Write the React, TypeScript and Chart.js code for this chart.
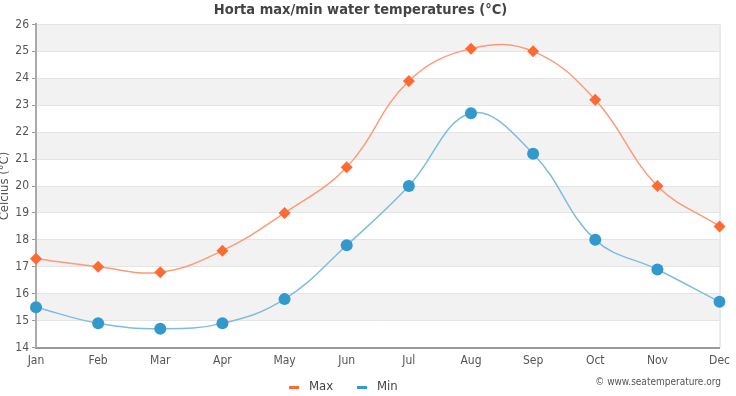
import React, { useEffect, useRef } from "react";
import { Chart, registerables } from "chart.js";

Chart.register(...registerables);

const months = ["Jan", "Feb", "Mar", "Apr", "May", "Jun", "Jul", "Aug", "Sep", "Oct", "Nov", "Dec"];
const maxTemps = [17.3, 17.0, 16.8, 17.6, 19.0, 20.7, 23.9, 25.1, 25.0, 23.2, 20.0, 18.5];
const minTemps = [15.5, 14.9, 14.7, 14.9, 15.8, 17.8, 20.0, 22.7, 21.2, 18.0, 16.9, 15.7];
const seriesNames = ["Max", "Min"];
const yMin = 14;
const yMax = 26;

const FONT = "'DejaVu Sans Condensed', 'DejaVu Sans', sans-serif";
const MAX_COLOR = "#ff6a33";
const MIN_COLOR = "#3399cc";

const bandsPlugin = {
  id: "bands",
  beforeDraw(chart: any) {
    const { ctx, chartArea, scales } = chart;
    const y = scales.y;
    ctx.save();
    ctx.fillStyle = "#f2f2f2";
    for (let v = yMin; v < yMax; v++) {
      if (v % 2 === 1) {
        const top = y.getPixelForValue(v + 1);
        const bot = y.getPixelForValue(v);
        ctx.fillRect(chartArea.left, top, chartArea.right - chartArea.left, bot - top);
      }
    }
    ctx.strokeStyle = "#d8d8d8";
    ctx.lineWidth = 1;
    ctx.beginPath();
    ctx.moveTo(chartArea.right + 0.5, chartArea.top);
    ctx.lineTo(chartArea.right + 0.5, chartArea.bottom);
    ctx.stroke();
    ctx.restore();
  },
  afterDraw(chart: any) {
    const { ctx, chartArea } = chart;
    // y-axis title
    ctx.save();
    ctx.translate(5, (chartArea.top + chartArea.bottom) / 2);
    ctx.rotate(-Math.PI / 2);
    ctx.fillStyle = "#555";
    ctx.font = `13px ${FONT}`;
    ctx.textAlign = "center";
    ctx.textBaseline = "middle";
    ctx.fillText("Celcius (°C)", 0, 0);
    ctx.restore();
    // legend
    ctx.save();
    ctx.font = `13px ${FONT}`;
    ctx.textBaseline = "middle";
    ctx.textAlign = "left";
    const colors = [MAX_COLOR, MIN_COLOR];
    const xs = [289, 357];
    const ly = 387;
    seriesNames.forEach((name, i) => {
      ctx.fillStyle = colors[i];
      ctx.fillRect(xs[i], ly - 1, 10, 3);
      ctx.fillStyle = "#444";
      ctx.fillText(name, xs[i] + 20, ly);
    });
    ctx.restore();
    // credit
    ctx.save();
    ctx.fillStyle = "#555";
    ctx.font = `10px ${FONT}`;
    ctx.textAlign = "right";
    ctx.textBaseline = "middle";
    ctx.fillText("© www.seatemperature.org", 721, 382);
    ctx.restore();
  },
};

export default function App() {
  const ref = useRef<HTMLCanvasElement>(null);
  useEffect(() => {
    document.body.style.margin = "0";
    const chart = new Chart(ref.current!, {
      type: "line",
      data: {
        labels: months,
        datasets: [
          {
            label: seriesNames[0],
            data: maxTemps,
            borderColor: "#ff9a78",
            backgroundColor: MAX_COLOR,
            borderWidth: 1.5,
            pointStyle: "rectRot",
            pointRadius: 6,
            pointHoverRadius: 6,
            pointBackgroundColor: MAX_COLOR,
            pointBorderColor: MAX_COLOR,
            pointBorderWidth: 0,
            tension: 0.4,
          },
          {
            label: seriesNames[1],
            data: minTemps,
            borderColor: "#7fbde0",
            backgroundColor: MIN_COLOR,
            borderWidth: 1.5,
            pointStyle: "circle",
            pointRadius: 6,
            pointHoverRadius: 6,
            pointBackgroundColor: MIN_COLOR,
            pointBorderColor: MIN_COLOR,
            pointBorderWidth: 0,
            tension: 0.4,
          },
        ],
      },
      options: {
        animation: false,
        responsive: false,
        maintainAspectRatio: false,
        layout: { padding: { left: 0, right: 15, top: 0, bottom: 22 } },
        plugins: {
          title: {
            display: true,
            text: "Horta max/min water temperatures (°C)",
            color: "#444",
            font: { family: FONT, size: 14.5, weight: "bold" },
            padding: { top: 2, bottom: 5 },
          },
          legend: { display: false },
          tooltip: { enabled: false },
        },
        scales: {
          x: {
            offset: false,
            grid: { display: false, drawTicks: false },
            border: { display: true, color: "#999", width: 2 },
            ticks: { color: "#555", font: { family: FONT, size: 12 }, padding: 6, maxRotation: 0, autoSkip: false },
          },
          y: {
            min: yMin,
            max: yMax,
            afterFit: (s: any) => { s.width = 36; },
            grid: { color: "#e4e4e4", drawTicks: true, tickLength: 4, tickColor: "#999" },
            border: { display: true, color: "#aaa", width: 2 },
            ticks: { stepSize: 1, color: "#555", font: { family: FONT, size: 12 }, padding: 3 },
          },
        },
      },
      plugins: [bandsPlugin],
    } as any);
    return () => chart.destroy();
  }, []);
  return (
    <div style={{ position: "absolute", left: 0, top: 0, width: 736, height: 396 }}>
      <canvas ref={ref} width={736} height={396} />
    </div>
  );
}
